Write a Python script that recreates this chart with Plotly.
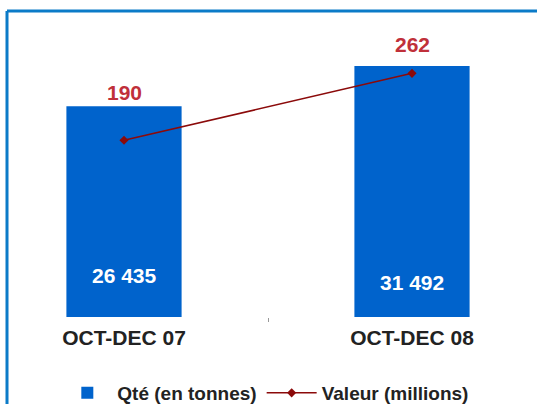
import plotly.graph_objects as go

categories = ["OCT-DEC 07", "OCT-DEC 08"]
qte_tonnes = [26435, 31492]
valeur_millions = [190, 262]
series_names = ["Qté (en tonnes)", "Valeur (millions)"]

FONT = "Liberation Sans, Arial, sans-serif"
BLUE = "#0063CC"
LINE = "#8B0A0A"
LABEL_RED = "#C0303A"
FRAME = "#0B7BC8"

fig = go.Figure()
fig.add_trace(go.Bar(
    x=categories, y=qte_tonnes, name=series_names[0],
    marker=dict(color=BLUE, line=dict(width=0)), width=0.4,
    yaxis="y", hoverinfo="skip",
))
fig.add_trace(go.Scatter(
    x=categories, y=valeur_millions, name=series_names[1],
    mode="lines+markers", yaxis="y2",
    line=dict(color=LINE, width=1.5),
    marker=dict(symbol="diamond", size=7, color=LINE),
    hoverinfo="skip",
))

def fmt(v):
    return f"{v:,}".replace(",", " ")

bar_label_shift = [28, 21]
for c, v, s in zip(categories, qte_tonnes, bar_label_shift):
    fig.add_annotation(x=c, y=0, xref="x", yref="y", text=f"<b>{fmt(v)}</b>",
                       showarrow=False, yanchor="bottom", yshift=s,
                       font=dict(family=FONT, size=21, color="white"))

line_label_shift = [48, 29]
for c, v, s in zip(categories, valeur_millions, line_label_shift):
    fig.add_annotation(x=c, y=v, xref="x", yref="y2", text=f"<b>{v}</b>",
                       showarrow=False, yanchor="middle", yshift=s,
                       font=dict(family=FONT, size=21, color=LABEL_RED))

# frame lines (top and left)
fig.add_shape(type="line", xref="paper", yref="paper",
              x0=7/537, x1=1.01, y0=(317-11)/279, y1=(317-11)/279,
              line=dict(color=FRAME, width=3))
fig.add_shape(type="line", xref="paper", yref="paper",
              x0=7/537, x1=7/537, y0=(317-11)/279, y1=(317-406)/279,
              line=dict(color=FRAME, width=3))

fig.update_layout(
    width=537, height=404,
    margin=dict(l=0, r=0, t=38, b=87),
    paper_bgcolor="white", plot_bgcolor="white",
    separators=", ",
    showlegend=True,
    legend=dict(orientation="h", xref="container", yref="container",
                x=0.495, xanchor="center", y=1 - 393/404, yanchor="middle",
                font=dict(family=FONT, size=19, color="#222222", weight="bold"),
                bgcolor="rgba(0,0,0,0)", itemwidth=50, tracegroupgap=0),
    xaxis=dict(range=[-124/288, (537-124)/288], showgrid=False, zeroline=False, showline=False,
               tickson="boundaries", ticks="outside", ticklen=4, tickcolor="#999999", tickwidth=1,
               ticklabelstandoff=6,
               tickfont=dict(family=FONT, size=21, color="#222222", weight="bold"),
               fixedrange=True),
    yaxis=dict(range=[0, 35000], visible=False, fixedrange=True),
    yaxis2=dict(range=[0, 300], visible=False, overlaying="y", side="right", fixedrange=True),
)

fig.write_html("out.html", config={"displayModeBar": False},
               post_script="document.body.style.margin='0';document.body.style.padding='0';")
